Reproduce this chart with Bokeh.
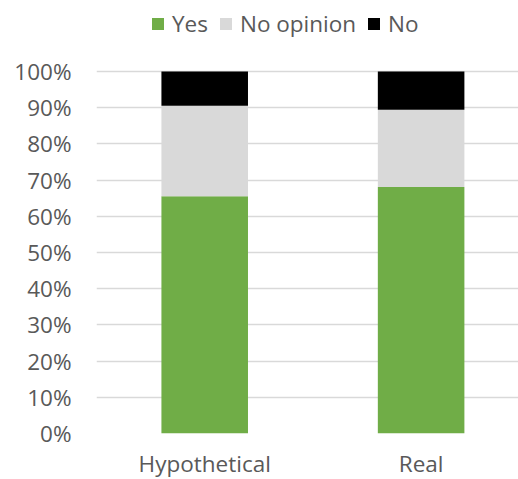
from bokeh.plotting import figure
from bokeh.models import ColumnDataSource, Range1d, FixedTicker, NumeralTickFormatter, Legend, LegendItem
from bokeh.embed import file_html
from bokeh.resources import INLINE

categories = ["Hypothetical", "Real"]
yes = [0.655, 0.681]
no_opinion = [0.250, 0.213]
no = [0.095, 0.106]
y_ticks = [0.0, 0.1, 0.2, 0.3, 0.4, 0.5, 0.6, 0.7, 0.8, 0.9, 1.0]
series_names = ["Yes", "No opinion", "No"]
series_colors = ["#70AD47", "#D9D9D9", "#000000"]

xs = [i + 0.5 for i in range(len(categories))]
source = ColumnDataSource(dict(x=xs, yes=yes, no_opinion=no_opinion, no=no))

FONT = "Open Sans"
TXT = "#595959"

p = figure(
    frame_width=422, frame_height=433,
    x_range=Range1d(0.0, 1.95), y_range=Range1d(0.0, 1.196),
    output_backend="svg", toolbar_location=None,
    min_border_left=96, min_border_right=0, min_border_top=0, min_border_bottom=44,
    outline_line_color=None,
)

renderers = p.vbar_stack(["yes", "no_opinion", "no"], x="x", width=0.4,
                         fill_color=series_colors, line_color=None, source=source)

p.xaxis.ticker = FixedTicker(ticks=xs)
p.xaxis.major_label_overrides = {x: c for x, c in zip(xs, categories)}
p.yaxis.ticker = FixedTicker(ticks=y_ticks)
p.yaxis.formatter = NumeralTickFormatter(format="0%")

for ax in (p.xaxis[0], p.yaxis[0]):
    ax.axis_line_color = None
    ax.major_tick_line_color = None
    ax.minor_tick_line_color = None
    ax.major_tick_out = 0
    ax.major_tick_in = 0
    ax.major_label_text_font = FONT
    ax.major_label_text_font_size = "22.5px"
    ax.major_label_text_color = TXT
p.yaxis.major_label_standoff = 25
p.xaxis.major_label_standoff = 14

p.xgrid.grid_line_color = None
p.ygrid.grid_line_color = "#D9D9D9"
p.ygrid.grid_line_width = 1.5
p.ygrid.ticker = FixedTicker(ticks=y_ticks)

items = [LegendItem(label=n, renderers=[r]) for n, r in zip(series_names, renderers)]
legend = Legend(items=items, orientation="horizontal", location=(54, 394),
                padding=0, margin=0, spacing=10, label_standoff=7,
                glyph_width=15, glyph_height=15, label_height=15,
                label_text_font=FONT, label_text_font_size="22.5px", label_text_color=TXT,
                border_line_color=None, background_fill_alpha=0)
p.add_layout(legend, "center")

open("out.html", "w").write(file_html(p, INLINE))
